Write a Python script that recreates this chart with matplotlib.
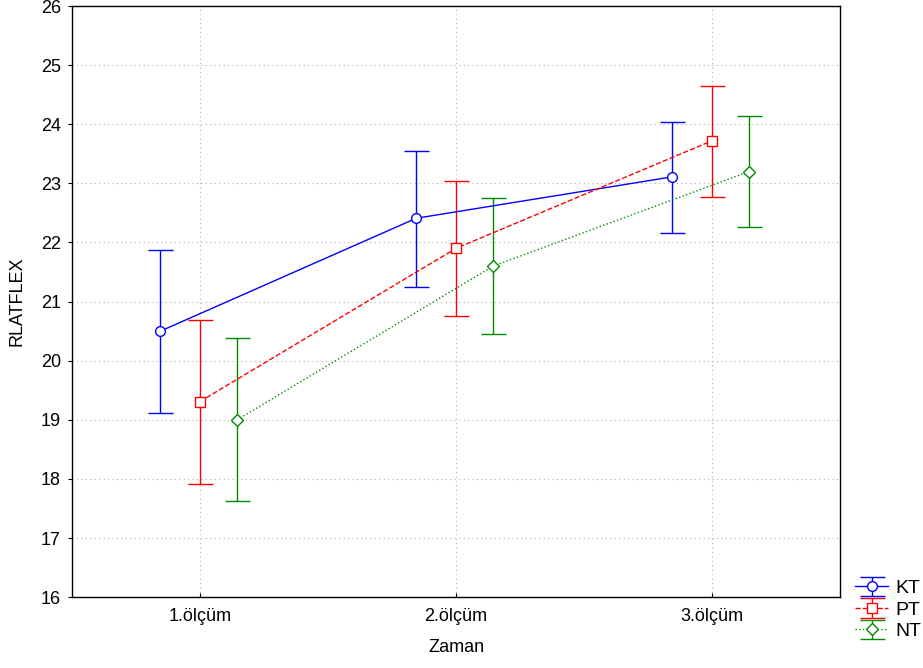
import numpy as np
import matplotlib
matplotlib.use("Agg")
from matplotlib import pyplot as plt

plt.rcParams['font.family'] = ['Liberation Sans', 'DejaVu Sans']

categories = ["1.ölçüm", "2.ölçüm", "3.ölçüm"]
groups = ["KT", "PT", "NT"]

kt_mean = [20.5, 22.41, 23.11]
kt_low = [19.12, 21.25, 22.16]
kt_high = [21.88, 23.54, 24.04]

pt_mean = [19.31, 21.9, 23.72]
pt_low = [17.92, 20.75, 22.77]
pt_high = [20.69, 23.04, 24.64]

nt_mean = [19.0, 21.6, 23.2]
nt_low = [17.62, 20.46, 22.26]
nt_high = [20.38, 22.75, 24.14]

series = [
    ("KT", kt_mean, kt_low, kt_high, "#0000ff", "-", "o", -0.155),
    ("PT", pt_mean, pt_low, pt_high, "#ff0000", "--", "s", 0.0),
    ("NT", nt_mean, nt_low, nt_high, "#008c00", ":", "D", 0.145),
]

fig = plt.figure(figsize=(9.23, 6.68), dpi=100)
ax = fig.add_axes([0.078, 0.106, 0.832, 0.885])

x = np.arange(len(categories))
for label, m, lo, hi, col, ls, mk, off in series:
    m = np.array(m)
    err = [m - np.array(lo), np.array(hi) - m]
    ax.errorbar(x + off, m, yerr=err, color=col, linestyle=ls, linewidth=1,
                marker=mk, markersize=7 if mk != "D" else 6, markerfacecolor="white",
                markeredgecolor=col, markeredgewidth=1, capsize=9, capthick=1,
                elinewidth=1, label=label)

ax.set_xlim(-0.5, 2.5)
ax.set_ylim(16, 26)
ax.set_xticks(x)
ax.set_xticklabels(categories)
ax.set_yticks(np.arange(16, 27, 1))
ax.grid(True, linestyle=(0, (1, 3)), color="#b0b0b0", linewidth=0.8)
ax.tick_params(axis="x", direction="in", length=3, labelsize=13, pad=8)
ax.tick_params(axis="y", direction="out", length=3, labelsize=13, pad=5)
ax.set_xlabel("Zaman", fontsize=13, labelpad=10)
ax.set_ylabel("RLATFLEX", fontsize=13, labelpad=11)
for s in ax.spines.values():
    s.set_linewidth(1)

fig.legend(loc="lower left", bbox_to_anchor=(0.918, 0.03), frameon=False,
           fontsize=14, handlelength=1.7, handletextpad=0.35, labelspacing=0.2,
           borderaxespad=0.0)

fig.savefig("out.png", dpi=100)
